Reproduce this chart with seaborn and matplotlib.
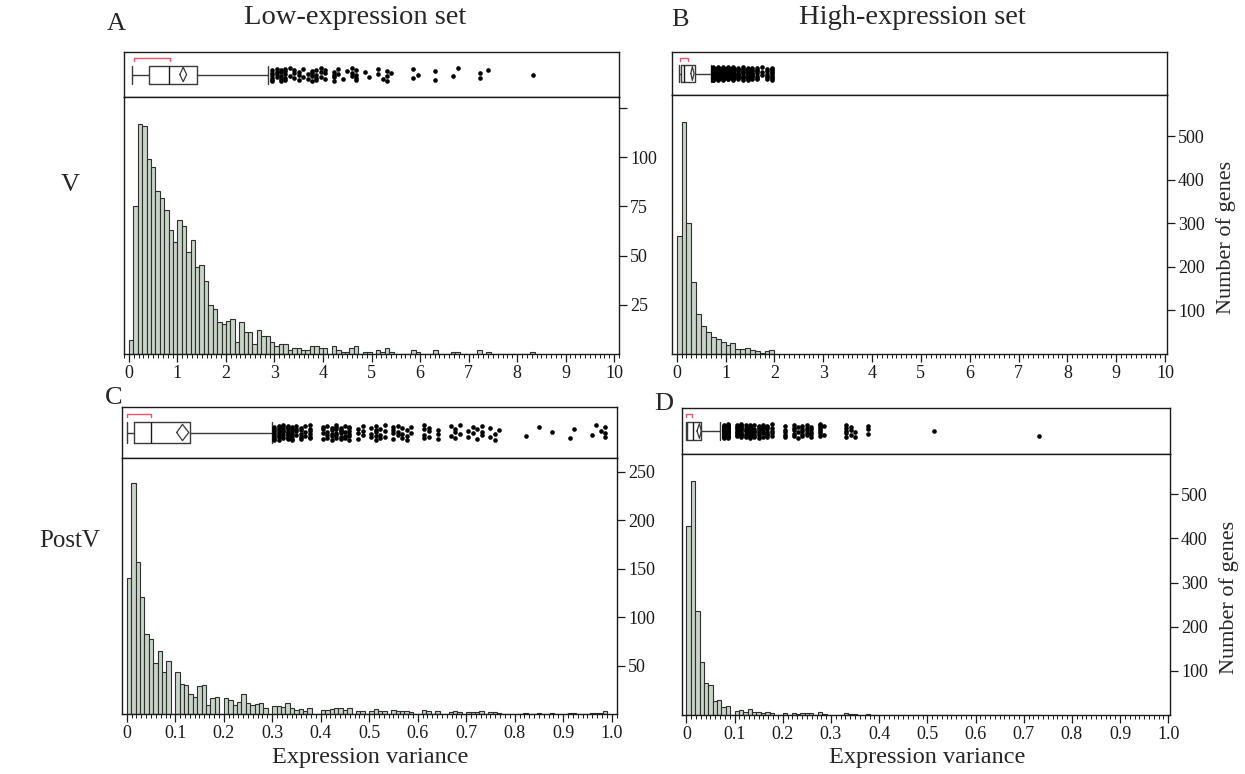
import numpy as np
import pandas as pd
import matplotlib
matplotlib.use('Agg')
import matplotlib.pyplot as plt
import seaborn as sns
from matplotlib.ticker import FixedLocator, MultipleLocator

sns.set_theme(style='white')
plt.rcParams['font.family'] = ['Liberation Serif', 'DejaVu Serif']
plt.rcParams['axes.edgecolor'] = '#1a1a1a'
plt.rcParams['xtick.color'] = '#1a1a1a'
plt.rcParams['ytick.color'] = '#1a1a1a'

# --- histogram counts per bin (number of genes) ---
# A: low-expression, V  (11 bins per unit)
low_v_binw = 1 / 11
low_v_counts = [7, 75, 117, 116, 99, 95, 83, 79, 73, 63, 57, 68, 65, 52, 58, 44, 45, 37, 25, 23,
                16, 15, 17, 18, 6, 16, 11, 11, 5, 12, 9, 9, 6, 4, 5, 5, 2, 3, 3, 2,
                2, 4, 4, 3, 3, 0, 4, 2, 1, 1, 3, 4, 0, 1, 1, 0, 2, 1, 3, 1,
                0, 0, 0, 0, 2, 1, 0, 0, 0, 2, 0, 0, 0, 1, 1, 0, 0, 0, 0, 2,
                0, 1, 0, 0, 0, 0, 0, 0, 0, 0, 0, 1]
# B: high-expression, V  (10 bins per unit)
high_v_binw = 0.1
high_v_counts = [271, 533, 300, 166, 93, 64, 51, 38, 34, 28, 21, 25, 11, 11, 14, 9, 7, 3, 6, 9]
# C: low-expression, PostV  (11 bins per 0.1)
low_pv_binw = 0.1 / 11
low_pv_counts = [140, 238, 157, 121, 82, 77, 53, 65, 43, 55,
                 0, 43, 31, 30, 21, 18, 29, 30, 9, 17, 18, 0,
                 16, 14, 9, 12, 21, 11, 9, 10, 11, 6, 0,
                 8, 8, 7, 11, 6, 4, 5, 3, 6, 0, 0,
                 4, 4, 5, 6, 6, 4, 6, 0, 3, 3, 0,
                 3, 5, 3, 3, 0, 4, 3, 3, 3, 2, 0,
                 0, 4, 3, 0, 3, 0, 0, 2, 3, 2, 0,
                 2, 2, 2, 3, 0, 2, 2, 1, 0, 0, 0,
                 0, 0, 1, 0, 0, 1, 0, 0, 1, 0, 0,
                 0, 1, 1, 0, 0, 0, 1, 1, 1, 3]
# D: high-expression, PostV  (11 bins per 0.1)
high_pv_binw = 0.1 / 11
high_pv_counts = [428, 530, 235, 121, 72, 69, 32, 35, 18, 21, 0,
                  8, 12, 7, 14, 7, 7, 5, 7, 5, 0, 0,
                  5, 0, 5, 3, 5, 5, 5, 0, 7, 2, 0,
                  0, 0, 0, 5, 3, 2, 0, 0, 3, 0, 0,
                  0, 0, 0, 0, 0, 0, 0, 0, 0, 0, 0,
                  0, 1, 0, 0, 0, 0, 0, 0, 0, 0, 0,
                  0, 0, 0, 0, 0, 0, 0, 0, 0, 0, 0,
                  0, 0, 0, 1]

# --- box plot summaries: whisker low, Q1, median, Q3, whisker high ---
low_v_box = [0.06, 0.42, 0.83, 1.40, 2.87]
high_v_box = [0.04, 0.09, 0.14, 0.375, 0.70]
low_pv_box = [0.0, 0.016, 0.051, 0.131, 0.30]
high_pv_box = [0.0, 0.001, 0.014, 0.031, 0.07]
# mean with confidence interval: lower, mean, upper
low_v_mean = [1.05, 1.12, 1.19]
high_v_mean = [0.29, 0.32, 0.355]
low_pv_mean = [0.103, 0.115, 0.128]
high_pv_mean = [0.022, 0.027, 0.031]
# shortest half (red bracket)
low_v_short = [0.10, 0.85]
high_v_short = [0.07, 0.23]
low_pv_short = [0.0, 0.051]
high_pv_short = [0.0, 0.012]

# --- axes ticks ---
unit_ticks = [0, 1, 2, 3, 4, 5, 6, 7, 8, 9, 10]
unit_labels = ['0', '1', '2', '3', '4', '5', '6', '7', '8', '9', '10']
frac_ticks = [0, 0.1, 0.2, 0.3, 0.4, 0.5, 0.6, 0.7, 0.8, 0.9, 1.0]
frac_labels = ['0', '0.1', '0.2', '0.3', '0.4', '0.5', '0.6', '0.7', '0.8', '0.9', '1.0']
low_v_yticks = [25, 50, 75, 100, 125]
low_v_ylabels = ['25', '50', '75', '100', '']
high_yticks = [100, 200, 300, 400, 500]
high_ylabels = ['100', '200', '300', '400', '500']
low_pv_yticks = [50, 100, 150, 200, 250]
low_pv_ylabels = ['50', '100', '150', '200', '250']

FILL = '#c7d4c7'
EDGE = '#2e2e2e'
W, H = 1245, 774

fig = plt.figure(figsize=(W / 100, H / 100), dpi=100)


def px_axes(x0, y0, x1, y1):
    return fig.add_axes([x0 / W, 1 - y1 / H, (x1 - x0) / W, (y1 - y0) / H])


def bin_table(counts, binw):
    counts = np.asarray(counts)
    edges = np.arange(len(counts) + 1) * binw
    centers = edges[:-1] + binw / 2
    return counts, edges, centers


def draw_hist(ax, counts, binw, xlim, ylim, xticks, xlabels, minor, yticks, ylabels, ylabel):
    counts, edges, centers = bin_table(counts, binw)
    # one row per gene, placed at its bin centre
    genes = pd.DataFrame({'variance': np.repeat(centers, counts)})
    sns.histplot(data=genes, x='variance', bins=list(edges), ax=ax,
                 color=FILL, edgecolor=EDGE, linewidth=0.8, alpha=1)
    ax.set_xlim(*xlim)
    ax.set_ylim(*ylim)
    ax.xaxis.set_major_locator(FixedLocator(xticks))
    ax.set_xticklabels(xlabels)
    ax.xaxis.set_minor_locator(MultipleLocator(minor))
    ax.yaxis.tick_right()
    ax.yaxis.set_major_locator(FixedLocator(yticks))
    ax.set_yticklabels(ylabels)
    ax.tick_params(axis='both', which='major', direction='out', length=6, width=0.9,
                   labelsize=13, bottom=True, right=True, left=False, pad=2)
    ax.tick_params(axis='x', which='minor', direction='out', length=3, width=0.7, bottom=True)
    ax.set_xlabel('')
    ax.set_ylabel(ylabel, fontsize=16)
    ax.yaxis.set_label_position('right')
    ax.yaxis.set_label_coords(1.10, 0.45)
    for s in ax.spines.values():
        s.set_linewidth(1.0)
        s.set_visible(True)


def draw_strip(ax, box, mean_ci, short, counts, binw, xlim):
    stats = [dict(whislo=box[0], q1=box[1], med=box[2], q3=box[3], whishi=box[4], fliers=[])]
    lp = dict(color='#3a3a3a', linewidth=1.0)
    ax.bxp(stats, positions=[0.5], widths=[0.4], orientation='horizontal', showfliers=False,
           capwidths=[0.4], manage_ticks=False, boxprops=lp, whiskerprops=lp, capprops=lp,
           medianprops=dict(color='#1a1a1a', linewidth=1.0))
    lo, m, hi = mean_ci
    ax.plot([lo, m, hi, m, lo], [0.5, 0.66, 0.5, 0.34, 0.5], color='#3a3a3a', lw=0.9)
    ax.plot([short[0], short[0], short[1], short[1]], [0.8, 0.87, 0.87, 0.8], color='#ee5566', lw=1.0)
    # outliers: genes beyond the upper whisker, jittered vertically
    counts, edges, centers = bin_table(counts, binw)
    mask = (centers > box[4]) & (counts > 0)
    xs = np.repeat(centers[mask], counts[mask])
    k = np.arange(len(xs))
    ys = 0.5 + ((k * 0.618034) % 1 - 0.5) * 0.3
    ax.scatter(xs, ys, s=11, color='black', linewidths=0, zorder=3)
    ax.set_xlim(*xlim)
    ax.set_ylim(0, 1)
    ax.set_xticks([])
    ax.set_yticks([])
    for s in ax.spines.values():
        s.set_linewidth(1.0)
        s.set_visible(True)


panels = [
    # strip rect, hist rect, counts, binw, box, mean, short, xlim, ylim, ticks, labels, minor, yticks, ylabels, ylabel
    ((124, 52, 619, 97), (124, 97, 619, 354), low_v_counts, low_v_binw, low_v_box, low_v_mean, low_v_short,
     (-0.10, 10.10), (0, 130.5), unit_ticks, unit_labels, 0.1, low_v_yticks, low_v_ylabels, ''),
    ((672, 52, 1167, 95), (672, 95, 1167, 354), high_v_counts, high_v_binw, high_v_box, high_v_mean, high_v_short,
     (-0.096, 10.04), (0, 595), unit_ticks, unit_labels, 0.1, high_yticks, high_ylabels, 'Number of genes'),
    ((122, 407, 617, 458), (122, 458, 617, 714), low_pv_counts, low_pv_binw, low_pv_box, low_pv_mean, low_pv_short,
     (-0.0097, 1.011), (0, 264), frac_ticks, frac_labels, 0.01, low_pv_yticks, low_pv_ylabels, ''),
    ((682, 408, 1170, 454), (682, 454, 1170, 715), high_pv_counts, high_pv_binw, high_pv_box, high_pv_mean, high_pv_short,
     (-0.0091, 1.0035), (0, 591), frac_ticks, frac_labels, 0.01, high_yticks, high_ylabels, 'Number of genes'),
]

hist_axes = []
for srect, hrect, cnt, bw, box, mean_ci, short, xlim, ylim, xt, xl, mn, yt, yl, ylab in panels:
    sax = px_axes(*srect)
    hax = px_axes(*hrect)
    draw_hist(hax, cnt, bw, xlim, ylim, xt, xl, mn, yt, yl, ylab)
    draw_strip(sax, box, mean_ci, short, cnt, bw, xlim)
    hist_axes.append(hax)


def ftext(x, y, s, size, **kw):
    fig.text(x / W, 1 - y / H, s, fontsize=size, ha='center', va='center', **kw)


ftext(355, 18, 'Low-expression set', 20.5)
ftext(912, 18, 'High-expression set', 20.5)
ftext(116, 24, 'A', 19)
ftext(680, 20, 'B', 19)
ftext(114, 398, 'C', 19)
ftext(664, 404, 'D', 19)
ftext(70, 185, 'V', 19)
ftext(70, 541, 'PostV', 18)
ftext(370, 757, 'Expression variance', 17.5)
ftext(927, 757, 'Expression variance', 17.5)

fig.savefig('out.png', dpi=100)
